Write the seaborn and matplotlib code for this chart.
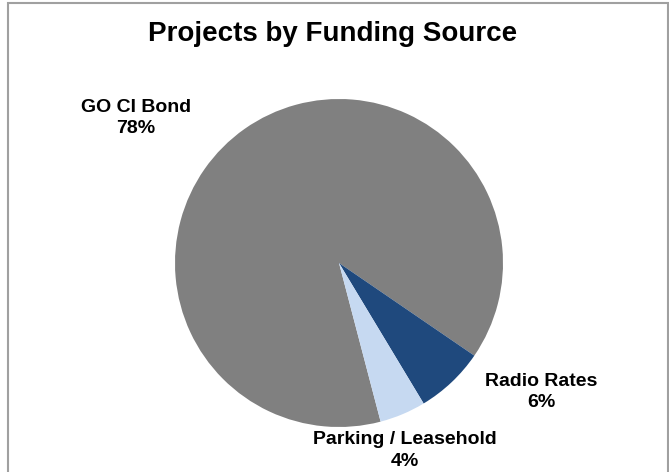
import matplotlib
matplotlib.use("Agg")
import matplotlib.pyplot as plt
from matplotlib.patches import Rectangle
import seaborn as sns

# Funding sources and their shares (percent)
sources = ["GO CI Bond", "Radio Rates", "Parking / Leasehold"]
shares = [78, 6, 4]
colors = ["#808080", "#1F497D", "#C6D9F1"]

sns.set_theme(style="white")
plt.rcParams["font.family"] = ["Liberation Sans", "DejaVu Sans"]

W, H, DPI = 669, 472, 100
fig = plt.figure(figsize=(W / DPI, H / DPI), dpi=DPI)
fig.patch.set_facecolor("white")

# pie placement in pixels (center and radius)
cx, cy, r = 339, 263, 164
ax = fig.add_axes([(cx - r) / W, (H - cy - r) / H, 2 * r / W, 2 * r / H])
ax.pie(shares, colors=colors, startangle=284.7, counterclock=False,
       radius=1.0, wedgeprops=dict(linewidth=0), frame=False)
ax.set_xlim(-1, 1)
ax.set_ylim(-1, 1)
ax.set_aspect("equal")
ax.axis("off")

# data labels, in pie-radius units
label_pos = [(-1.238, 0.884), (1.232, -0.786), (0.402, -1.143)]
for name, val, (lx, ly) in zip(sources, shares, label_pos):
    ax.text(lx, ly, f"{name}\n{val}%", ha="center", va="center",
            fontsize=14, fontweight="bold", color="black",
            linespacing=1.32, clip_on=False)

fig.text(333 / W, 1 - 34 / H, "Projects by Funding Source", ha="center",
         va="center", fontsize=20, fontweight="bold", color="black")

# chart area border
fig.patches.append(Rectangle((7.5 / W, -0.05), (668 - 7.5) / W, 1.05 - 2.5 / H,
                             transform=fig.transFigure, fill=False,
                             edgecolor="#A0A0A0", linewidth=1.5))

fig.savefig("out.png", dpi=DPI, facecolor="white")
